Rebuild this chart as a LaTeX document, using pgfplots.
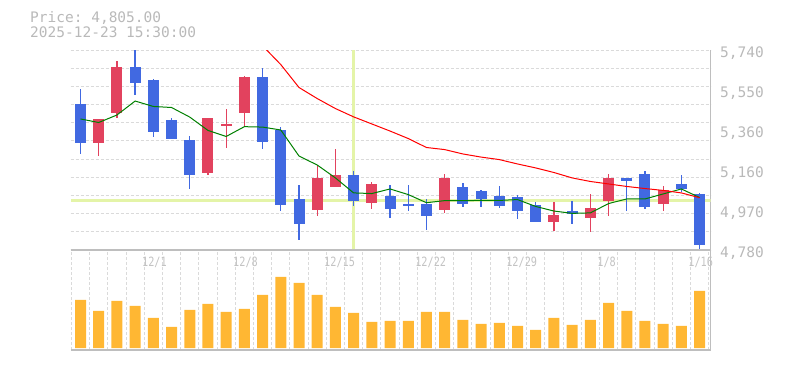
\documentclass[border=0pt]{standalone}
\usepackage{fontspec}
\setmonofont{DejaVu Sans Mono}
\newfontfamily\tickfont{DejaVu Sans Mono}[FakeStretch=0.8]
\usepackage{pgfplots}
\pgfplotsset{compat=1.18}
\usepackage{pgfplotstable}

\definecolor{candleup}{RGB}{226,66,94}
\definecolor{candledn}{RGB}{65,105,225}
\definecolor{volc}{RGB}{255,183,51}
\definecolor{gridc}{RGB}{218,218,218}
\definecolor{framec}{RGB}{190,190,190}
\definecolor{txt}{RGB}{185,185,185}
\definecolor{xtc}{RGB}{195,195,195}
\definecolor{hl}{RGB}{228,244,168}
\definecolor{maG}{RGB}{0,128,0}
\definecolor{maR}{RGB}{255,0,0}

% up candles (red): index open high low close
\pgfplotstableread{
i o h l c
1 5294 5409 5231 5409
2 5439 5687 5415 5658
7 5151 5414 5141 5414
8 5376 5457 5271 5382
9 5439 5615 5372 5610
13 4972 5188 4945 5126
14 5082 5265 5082 5140
16 5007 5106 4977 5097
20 4973 5146 4959 5127
26 4916 5010 4873 4948
28 4935 5049 4868 4982
29 5017 5145 4945 5126
32 5002 5087 4969 5068
}\upc

% down candles (blue)
\pgfplotstableread{
i o h l c
0 5481 5553 5241 5294
3 5658 5760 5525 5583
4 5596 5601 5324 5348
5 5404 5414 5314 5314
6 5308 5327 5074 5141
10 5610 5652 5266 5300
11 5356 5369 4969 4997
12 5025 5092 4828 4906
15 5140 5159 4993 5015
17 5039 5092 4935 4978
18 5002 5092 4969 4993
19 5002 5023 4877 4945
21 5082 5102 4988 5002
22 5063 5068 4988 5026
23 5039 5087 4983 4993
24 5034 5044 4930 4969
25 4996 5010 4916 4916
27 4967 5015 4905 4954
30 5126 5126 4969 5113
31 5145 5159 4978 4988
33 5097 5140 5060 5074
34 5049 5054 4780 4805
}\dnc

\pgfplotstableread{
i m
0 5409
1 5392
2 5428
3 5495
4 5469
5 5464
6 5418
7 5354
8 5325
9 5372
10 5370
11 5356
12 5231
13 5188
14 5126
15 5054
16 5051
17 5073
18 5046
19 5007
20 5017
21 5017
22 5018
23 5018
24 5022
25 4989
26 4967
27 4956
28 4958
29 5003
30 5025
31 5025
32 5049
33 5073
34 5032
}\maS

\pgfplotstableread{
i m
10 5760
11 5670
12 5560
13 5507
14 5459
15 5419
16 5385
17 5351
18 5315
19 5272
20 5262
21 5241
22 5226
23 5214
24 5193
25 5174
26 5152
27 5126
28 5109
29 5097
30 5085
31 5075
32 5066
33 5054
34 5031
}\maL

\pgfplotstableread{
i v
0 48
1 37
2 47
3 42
4 30
5 21
6 38
7 44
8 36
9 39
10 53
11 71
12 65
13 53
14 41
15 35
16 26
17 27
18 27
19 36
20 36
21 28
22 24
23 25
24 22
25 18
26 30
27 23
28 28
29 45
30 37
31 27
32 24
33 22
34 57
}\volt

\begin{document}
\begin{tikzpicture}
\path[use as bounding box] (0,0) rectangle (785pt,370pt);

\node[anchor=base west, inner sep=0pt, text=txt, font=\ttfamily\fontsize{14.5pt}{16pt}\selectfont] at (30pt,347.3pt) {Price: 4,805.00};
\node[anchor=base west, inner sep=0pt, text=txt, font=\ttfamily\fontsize{14.5pt}{16pt}\selectfont] at (30pt,332.7pt) {2025-12-23 15:30:00};

% ---------- price panel ----------
\begin{axis}[
  at={(70.5pt,120pt)}, anchor=south west,
  width=640pt, height=200pt, scale only axis,
  xmin=-0.55, xmax=34.6, ymin=4780, ymax=5740,
  axis x line*=bottom, axis y line*=right,
  axis line style={framec, line width=1.2pt, -},
  xtick=\empty,
  minor xtick={-0.5,0.5,...,34.5},
  xminorgrids=true,
  ytick={4780,4867.27,4954.55,5041.82,5129.09,5216.36,5303.64,5390.91,5478.18,5565.45,5652.73,5740},
  yticklabels={,,,,,,,,,,,},
  ymajorgrids=true,
  major tick length=0pt, minor tick length=0pt,
  major grid style={gridc, dash pattern=on 3pt off 2pt, line width=1pt},
  minor grid style={gridc, dash pattern=on 3pt off 2pt, line width=1pt},
  extra y ticks={4780,4972,5164,5356,5548,5740},
  extra y tick labels={{4,780},{4,970},{5,160},{5,360},{5,550},{5,740}},
  extra y tick style={grid=none, major tick length=0pt},
  yticklabel style={font=\ttfamily\fontsize{14.5pt}{16pt}\selectfont, text=txt, anchor=base west, inner sep=0pt, xshift=9.5pt, yshift=-7.3pt},
]
% highlight cross lines
\addplot[hl, line width=3pt, forget plot] coordinates {(-0.55,5018.6) (34.6,5018.6)};
\addplot[hl, line width=3pt, forget plot] coordinates {(15,4780) (15,5740)};

% wicks
\addplot[draw=none, mark=none, forget plot,
  error bars/.cd, y dir=both, y explicit, error mark=none,
  error bar style={draw=candleup, line width=1.3pt, solid}]
  table[x=i, y expr={(\thisrow{h}+\thisrow{l})/2}, y error expr={(\thisrow{h}-\thisrow{l})/2}] {\upc};
\addplot[draw=none, mark=none, forget plot,
  error bars/.cd, y dir=both, y explicit, error mark=none,
  error bar style={draw=candledn, line width=1.3pt, solid}]
  table[x=i, y expr={(\thisrow{h}+\thisrow{l})/2}, y error expr={(\thisrow{h}-\thisrow{l})/2}] {\dnc};
% bodies
\addplot[draw=none, mark=none, forget plot,
  error bars/.cd, y dir=both, y explicit, error mark=none,
  error bar style={draw=candleup, line width=11pt, solid}]
  table[x=i, y expr={(\thisrow{o}+\thisrow{c})/2}, y error expr={max(abs(\thisrow{c}-\thisrow{o})/2,3.6)}] {\upc};
\addplot[draw=none, mark=none, forget plot,
  error bars/.cd, y dir=both, y explicit, error mark=none,
  error bar style={draw=candledn, line width=11pt, solid}]
  table[x=i, y expr={(\thisrow{o}+\thisrow{c})/2}, y error expr={max(abs(\thisrow{c}-\thisrow{o})/2,3.6)}] {\dnc};

% moving averages
\addplot[maG, line width=1pt, mark=none] table[x=i, y=m] {\maS};
\addplot[maR, line width=1pt, mark=none] table[x=i, y=m] {\maL};
\end{axis}

% ---------- volume panel ----------
\begin{axis}[
  at={(70.5pt,20pt)}, anchor=south west,
  width=640pt, height=100pt, scale only axis,
  xmin=-0.55, xmax=34.6, ymin=-2, ymax=98,
  axis x line=box, axis y line*=right,
  axis line style={framec, line width=1.2pt, -},
  ytick=\empty,
  xtick={4,9,14,19,24,29,34},
  xticklabels={12/1,12/8,12/15,12/22,12/29,1/8,1/16},
  xticklabel pos=upper,
  xticklabel style={font=\tickfont\fontsize{12.8pt}{14pt}\selectfont, text=xtc, anchor=north west, inner sep=0pt, xshift=-11.4pt, yshift=-7.3pt},
  minor xtick={-0.5,0.5,...,34.5},
  xminorgrids=true,
  major tick length=0pt, minor tick length=0pt,
  minor grid style={gridc, dash pattern=on 3pt off 2pt, line width=1pt},
]
\addplot[ybar, bar width=11pt, fill=volc, draw=none] table[x=i, y=v] {\volt};
\end{axis}
\end{tikzpicture}
\end{document}
